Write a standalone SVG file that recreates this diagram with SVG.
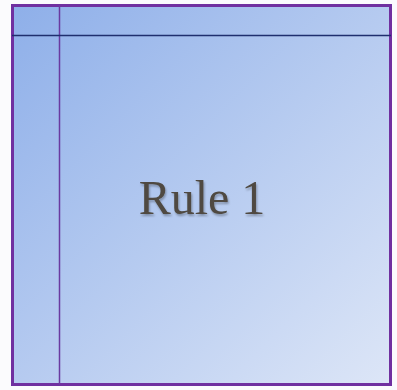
<svg xmlns="http://www.w3.org/2000/svg" width="397" height="390" viewBox="0 0 397 390">
<defs>
<linearGradient id="g" x1="0" y1="0" x2="1" y2="1">
<stop offset="0" stop-color="#8eafe9"/>
<stop offset="1" stop-color="#dde6f7"/>
</linearGradient>
<filter id="sh" x="-10%" y="-10%" width="130%" height="140%">
<feDropShadow dx="1" dy="2" stdDeviation="1" flood-color="#000" flood-opacity="0.3"/>
</filter>
<style>
.lbl{font-family:"Liberation Serif","DejaVu Serif",serif;font-size:48px;fill:#4f4a42;text-anchor:middle}
</style>
</defs>
<rect width="397" height="390" fill="#fbfbfd"/>
<g id="rule1">
<rect x="12.5" y="5.5" width="378" height="379" fill="url(#g)" stroke="#7030a0" stroke-width="3"/>
<line x1="59.5" y1="5" x2="59.5" y2="385" stroke="#6a3aa0" stroke-width="1.5"/>
<line x1="12" y1="35.5" x2="391" y2="35.5" stroke="#1f2f6e" stroke-width="1.5"/>
<text class="lbl" x="202" y="214" filter="url(#sh)">Rule 1</text>
</g>
</svg>
